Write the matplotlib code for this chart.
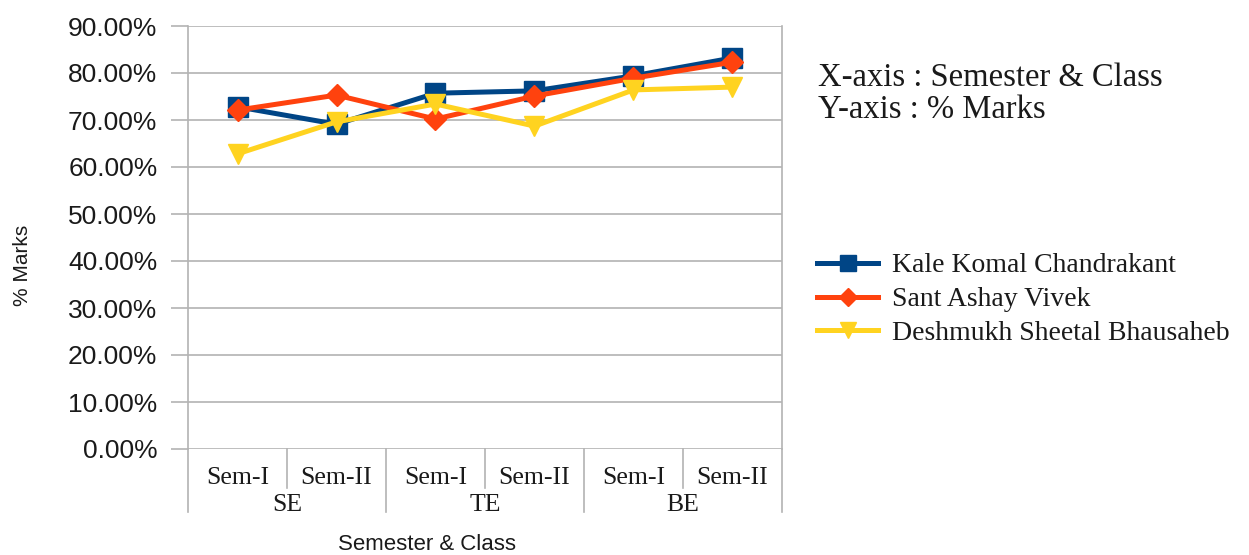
import matplotlib.pyplot as plt
from matplotlib.lines import Line2D

#################################
#####         DATA          #####
#################################

semesters = ["Sem-I", "Sem-II", "Sem-I", "Sem-II", "Sem-I", "Sem-II"]
classes = ["SE", "TE", "BE"]

kale = [72.8, 69.1, 75.7, 76.2, 79.4, 83.2]
sant = [72.1, 75.3, 70.2, 75.1, 78.9, 82.3]
deshmukh = [62.8, 69.6, 73.4, 68.7, 76.4, 77.0]

names = ["Kale Komal Chandrakant", "Sant Ashay Vivek", "Deshmukh Sheetal Bhausaheb"]
y_ticks = [0, 10, 20, 30, 40, 50, 60, 70, 80, 90]

##################################
#####     VISUALIZATION      #####
##################################

W, H = 1249, 555
fig = plt.figure(figsize=(W / 100, H / 100), dpi=100)

# axes box in pixels: x 188..782, y 26..449 (90% .. 0%)
left, right, top, bottom = 188, 782, 26, 449
ax = fig.add_axes([left / W, 1 - bottom / H, (right - left) / W, (bottom - top) / H])

grid_color = "#b3b3b3"
text_color = "#1a1a1a"
serif = "Liberation Serif"
sans = "Liberation Sans"

x = list(range(len(semesters)))
series = [
    (kale, "#004586", "s", 14),
    (sant, "#ff420e", "D", 11),
    (deshmukh, "#ffd320", "v", 15),
]
for name, (vals, color, marker, ms) in zip(names, series):
    ax.plot(x, vals, color=color, lw=3.6, marker=marker, markersize=ms,
            label=name, zorder=3, solid_joinstyle="round")

ax.set_xlim(-0.5, len(semesters) - 0.5)
ax.set_ylim(0, 90)

# gridlines and outward ticks
ax.set_yticks(y_ticks)
ax.set_yticklabels(["%.2f%%" % v for v in y_ticks], fontfamily=sans, fontsize=19, color=text_color)
ax.yaxis.grid(True, color=grid_color, lw=1.2)
ax.tick_params(axis="y", length=12, width=1.2, color=grid_color, pad=10)
ax.set_xticks([])
for s in ["top", "bottom"]:
    ax.spines[s].set_visible(False)
for s in ["left", "right"]:
    ax.spines[s].set_color(grid_color)
    ax.spines[s].set_linewidth(1.2)

# category area below the plot
trans = ax.get_xaxis_transform()
span = bottom - top
for i in range(len(semesters) + 1):
    xe = i - 0.5
    end = 512 if i % 2 == 0 else 488
    ax.plot([xe, xe], [0, (bottom - end) / span], color=grid_color, lw=1.2,
            transform=trans, clip_on=False)
for i, lab in enumerate(semesters):
    ax.text(i, (bottom - 478) / span, lab, transform=trans, ha="center", va="center",
            fontfamily=serif, fontsize=18.5, color=text_color)
for j, lab in enumerate(classes):
    ax.text(2 * j + 0.5, (bottom - 505) / span, lab, transform=trans, ha="center",
            va="center", fontfamily=serif, fontsize=18.5, color=text_color)

# axis titles
fig.text(427 / W, 1 - 545 / H, "Semester & Class", ha="center", va="center",
         fontfamily=sans, fontsize=16, color=text_color)
fig.text(22 / W, 1 - 265 / H, "% Marks", ha="center", va="center", rotation=90,
         fontfamily=sans, fontsize=15, color=text_color)

# annotation text on the right
fig.text(818 / W, 1 - 78 / H, "X-axis : Semester & Class", ha="left", va="center",
         fontfamily=serif, fontsize=23.5, color=text_color)
fig.text(818 / W, 1 - 110 / H, "Y-axis : % Marks", ha="left", va="center",
         fontfamily=serif, fontsize=23.5, color=text_color)

# legend
handles = [Line2D([0], [0], color=c, lw=3.6, marker=m, markersize=ms * 0.8)
           for _, c, m, ms in series]
leg = fig.legend(handles, names, loc="upper left", bbox_to_anchor=(817 / W, 1 - 253 / H),
                 frameon=False, prop={"family": serif, "size": 20}, handlelength=2.2,
                 handletextpad=0.5, labelspacing=0.3, borderaxespad=0, borderpad=0)
for t in leg.get_texts():
    t.set_color(text_color)

plt.savefig("out.png", dpi=100)
